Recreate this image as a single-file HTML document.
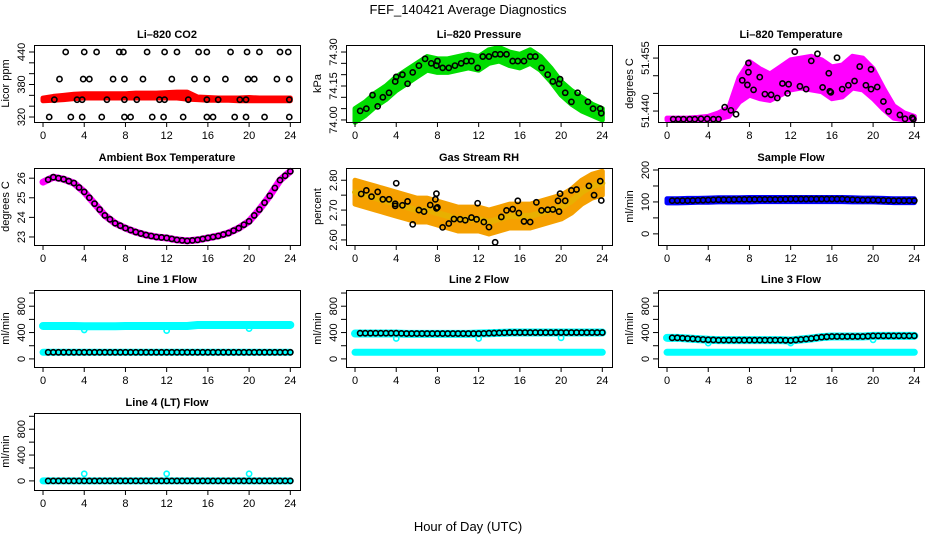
<!DOCTYPE html>
<html><head><meta charset="utf-8"><style>
body{margin:0;background:#fff}
svg{display:block;font-family:"Liberation Sans",sans-serif}
</style></head><body>
<svg id="c" width="936" height="540" xmlns="http://www.w3.org/2000/svg">
<text x="468" y="14" text-anchor="middle" font-size="13">FEF_140421  Average Diagnostics</text>
<text x="468" y="531" text-anchor="middle" font-size="13">Hour of Day (UTC)</text>
</svg>
<script>
const hours=[0,1,2,3,4,5,6,7,8,9,10,11,12,13,14,15,16,17,18,19,20,21,22,23,24];
const xTicks=[0,4,8,12,16,20,24];
// CO2
const co2Lo=[350,351,352,354,355,355,355,355,355,355,355,355,355,355,353,352,351,351,351,350,350,350,350,350,350];
const co2Hi=[355,358,360,362,363,363,363,363,363,364,364,364,365,366,366,357,356,355,355,355,356,355,355,355,355];
const co2BlkX=[2.2,4,5.2,7.4,7.8,10.1,11.8,13,15.1,15.9,18.2,19.8,21,23,23.8,1.6,3.9,4.5,6.8,7.9,9.7,12.5,14.7,15.9,17.7,19.9,20.5,22.7,23.9,1.1,3.3,3.8,6.2,7.9,9.1,11.3,11.8,14.1,15.9,17,19.1,19.7,23.9,0.6,2.7,3.8,5.7,7.9,8.5,10.6,11.7,13.6,15.9,16.5,18.6,19.7,21.5,23.9];
const co2BlkY=[440,440,440,440,440,440,440,440,440,440,440,440,440,440,440,390,390,390,390,390,390,390,390,390,390,390,390,390,390,352,352,352,352,352,352,352,352,352,352,352,352,352,352,320,320,320,320,320,320,320,320,320,320,320,320,320,320,320];
// Pressure
const presLo=[73.99,74.02,74.06,74.09,74.13,74.16,74.19,74.22,74.21,74.21,74.22,74.23,74.22,74.25,74.26,74.24,74.23,74.25,74.22,74.17,74.11,74.07,74.04,74.02,74.00];
const presHi=[74.05,74.08,74.12,74.15,74.19,74.22,74.25,74.28,74.27,74.27,74.28,74.29,74.28,74.31,74.32,74.30,74.29,74.31,74.28,74.23,74.17,74.13,74.10,74.07,74.05];
const presBlkX=[0.5,1.1,1.7,2.2,2.7,3.3,3.9,4,4.6,5.1,5.6,6.2,6.8,7.4,7.9,8,8.5,9.1,9.7,10.3,10.8,11.3,11.9,12.4,13,13.6,14.1,14.7,15.3,15.8,16.4,17,17.5,18.1,18.7,19.2,19.8,19.9,20.4,21,21.6,22.6,23.1,23.8,23.9];
const presBlkY=[74.04,74.05,74.11,74.06,74.10,74.12,74.17,74.19,74.20,74.16,74.21,74.24,74.27,74.25,74.24,74.26,74.23,74.23,74.24,74.25,74.26,74.26,74.23,74.28,74.28,74.29,74.29,74.29,74.26,74.26,74.26,74.28,74.28,74.23,74.20,74.17,74.16,74.18,74.12,74.08,74.12,74.08,74.05,74.05,74.03];
// Li-820 temperature
const ltLo=[51.4375,51.4375,51.4375,51.4375,51.4375,51.4378,51.4385,51.4425,51.4445,51.4435,51.4430,51.4445,51.4460,51.4465,51.4460,51.4455,51.4435,51.4440,51.4465,51.4460,51.4435,51.4405,51.4380,51.4375,51.4375];
const ltHi=[51.4380,51.4380,51.4380,51.4382,51.4385,51.4395,51.4410,51.4495,51.4540,51.4520,51.4505,51.4525,51.4545,51.4550,51.4555,51.4545,51.4525,51.4530,51.4555,51.4550,51.4520,51.4465,51.4415,51.4395,51.4385];
const ltBlkX=[0.6,1.1,1.6,2.2,2.7,3.3,3.9,4.5,5,5.6,6.2,6.7,7.3,7.8,7.9,7.9,8.4,9,9.5,10.1,10.7,11.2,11.7,11.8,12.4,12.9,13.5,14,14.6,15.1,15.7,15.8,15.9,16.5,17,17.6,18.2,18.7,19.3,19.8,19.8,20.4,21,21.5,22.6,23.1,23.8,23.9];
const ltBlkY=[51.4377,51.4377,51.4377,51.4377,51.4377,51.4378,51.4378,51.4377,51.4377,51.4411,51.4402,51.4391,51.4487,51.4474,51.4510,51.4536,51.4460,51.4496,51.4448,51.4446,51.4437,51.4478,51.4450,51.4476,51.4568,51.4470,51.4462,51.4542,51.4562,51.4467,51.4507,51.4456,51.4453,51.4551,51.4462,51.4473,51.4485,51.4526,51.4473,51.4462,51.4518,51.4468,51.4427,51.4399,51.4389,51.4378,51.4381,51.4377];
// Ambient box temperature
const ambT=[25.8,26.05,25.95,25.75,25.3,24.7,24.1,23.7,23.45,23.25,23.1,23.0,22.95,22.85,22.8,22.85,22.95,23.05,23.2,23.45,23.8,24.4,25.1,25.9,26.35];
// Gas stream RH
const rhLo=[2.72,2.71,2.70,2.69,2.68,2.67,2.66,2.66,2.65,2.64,2.63,2.63,2.63,2.62,2.63,2.64,2.64,2.64,2.65,2.66,2.67,2.69,2.72,2.74,2.75];
const rhHi=[2.80,2.79,2.78,2.77,2.76,2.75,2.74,2.74,2.73,2.72,2.71,2.71,2.71,2.70,2.71,2.72,2.72,2.72,2.73,2.74,2.75,2.77,2.80,2.82,2.83];
const rhBlkX=[0.6,1.1,1.6,2.2,2.7,3.3,3.9,3.9,4,4.6,5.1,5.6,6.2,6.7,7.3,7.8,7.9,7.9,8,8.5,9.1,9.6,10.2,10.7,11.3,11.8,11.9,12.5,13,13.6,14.2,14.7,15.3,15.8,15.9,16.4,17,17.6,18.1,18.7,19.2,19.7,19.8,19.9,20.4,21,21.5,22.7,23.2,23.8,23.9];
const rhBlkY=[2.754,2.766,2.745,2.761,2.736,2.736,2.721,2.714,2.790,2.716,2.729,2.652,2.700,2.695,2.717,2.736,2.755,2.706,2.709,2.642,2.655,2.670,2.669,2.666,2.675,2.669,2.723,2.660,2.643,2.592,2.677,2.699,2.703,2.731,2.690,2.662,2.660,2.726,2.699,2.701,2.702,2.731,2.695,2.755,2.731,2.766,2.769,2.781,2.750,2.797,2.732];
// Sample flow
const sfLo=[97,97,98,99,99,100,100,100,100,101,101,101,101,101,101,101,101,101,100,100,100,99,98,98,98];
const sfHi=[110,110,111,111,112,113,113,113,114,114,114,114,114,114,114,114,114,114,113,112,112,111,110,110,110];
const sfBlk=[104,104,104,105,106,107,107,108,108,108,108,108,109,109,109,109,109,109,107,106,106,105,104,104,104];
// Line flows
const l1High=[500,500,500,500,495,495,495,495,500,500,500,500,500,500,500,515,515,515,515,515,515,515,515,515,515];
const l1Low=[100,100,100,100,100,100,100,100,100,100,100,100,100,100,100,100,100,100,100,100,100,100,100,100,100];
const l1Blk=[100,100,100,100,100,100,100,100,100,100,100,100,100,100,100,100,100,100,100,100,100,100,100,100,100];
const l2High=[385,385,385,385,385,380,380,380,380,380,380,380,385,390,395,400,400,400,400,400,400,400,400,400,400];
const l2Low=[100,100,100,100,100,100,100,100,100,100,100,100,100,100,100,100,100,100,100,100,100,100,100,100,100];
const l2Blk=[390,390,390,390,390,385,385,385,385,385,385,385,385,390,395,400,400,400,400,400,400,400,400,400,400];
const l3High=[320,320,310,300,290,285,285,285,285,285,285,285,280,295,310,330,340,340,340,340,350,350,350,350,350];
const l3Low=[100,100,100,100,100,100,100,100,100,100,100,100,100,100,100,100,100,100,100,100,100,100,100,100,100];
const l3Blk=[320,320,310,300,290,285,285,285,285,285,285,285,280,295,310,330,340,340,340,340,350,350,350,350,350];
const l4Cyan=[0,0,0,0,0,0,0,0,0,0,0,0,0,0,0,0,0,0,0,0,0,0,0,0,0];
const l4Blk=[0,0,0,0,0,0,0,0,0,0,0,0,0,0,0,0,0,0,0,0,0,0,0,0,0];
const outX=[4,12,20];
const l1Out=[440,430,460];
const l2Out=[310,310,320];
const l3Out=[240,240,290];
const l4Out=[110,110,110];

const svg=document.getElementById('c');
const NS='http://www.w3.org/2000/svg';
function mk(tag,attrs,parent){const e=document.createElementNS(NS,tag);for(const k in attrs)e.setAttribute(k,attrs[k]);(parent||svg).appendChild(e);return e;}
const colLeft=[34,346,658], rowTop=[45,168,290,413], W=266, H=77;

function panel(col,row,name,title,ylab,yDom,yTicks,yLabs){
  const g=mk('g',{});
  
  
  const L=colLeft[col],T=rowTop[row];
  const sx=v=>L+(v+0.875)/25.815*W;
  const sy=v=>T+H-(v-yDom[0])/(yDom[1]-yDom[0])*H;
  const t=mk('text',{x:L+W/2,y:T-7,'text-anchor':'middle','font-size':11,'font-weight':'bold'},g);t.textContent=title;
  
  const plot=mk('g',{},g);
  
  const ax=mk('g',{stroke:'#000','stroke-width':1,fill:'none'},g);
  
  mk('rect',{x:L+0.5,y:T+0.5,width:W,height:H},ax);
  mk('line',{x1:sx(0),x2:sx(24),y1:T+H+0.5,y2:T+H+0.5},ax);
  xTicks.forEach(v=>{mk('line',{x1:sx(v),x2:sx(v),y1:T+H,y2:T+H+5},ax);
    const tx=mk('text',{x:sx(v),y:T+H+17,'text-anchor':'middle','font-size':11,fill:'#000',stroke:'none'},g);tx.textContent=v;
    });
  mk('line',{x1:L+0.5,x2:L+0.5,y1:sy(yTicks[0]),y2:sy(yTicks[yTicks.length-1])},ax);
  yTicks.forEach(v=>mk('line',{x1:L-5,x2:L,y1:sy(v),y2:sy(v)},ax));
  yLabs.forEach(v=>{const tx=mk('text',{x:0,y:0,transform:`translate(${L-9},${sy(v.v)}) rotate(-90)`,'text-anchor':'middle','font-size':11},g);tx.textContent=v.s;
    });
  const yl=mk('text',{x:0,y:0,transform:`translate(${L-25},${T+H/2}) rotate(-90)`,'text-anchor':'middle','font-size':11},g);yl.textContent=ylab;
  
  return {sx,sy,plot};
}
function band(p,lo,hi,color,nm){
  let d='M'+hours.map((h,i)=>p.sx(h)+','+p.sy(hi[i])).join('L')+'L'+hours.slice().reverse().map((h,j)=>p.sx(h)+','+p.sy(lo[hours.length-1-j])).join('L')+'Z';
  const e=mk('path',{d,fill:color,stroke:color,'stroke-width':5,'stroke-linejoin':'round'},p.plot);
  
}
function line(p,ys,color,w,nm){
  const e=mk('polyline',{points:hours.map((h,i)=>p.sx(h)+','+p.sy(ys[i])).join(' '),fill:'none',stroke:color,'stroke-width':w,'stroke-linecap':'round','stroke-linejoin':'round'},p.plot);
  
}
function pts(p,xs,ys,color,nm,r){
  xs.forEach((x,i)=>{const c=mk('circle',{cx:p.sx(x),cy:p.sy(ys[i]),r:r||2.6,fill:'none',stroke:color,'stroke-width':1.6},p.plot);
    });
}
function hourPts(p,ys,color,nm){
  const xs=[],vs=[];hours.forEach((h,i)=>{if(h>0){xs.push(h-0.5);vs.push((ys[i-1]+ys[i])/2);}xs.push(h);vs.push(ys[i]);});
  pts(p,xs.slice(1),vs.slice(1),color,nm);
}
const lab=a=>a.map(v=>({v:v,s:String(v)}));

let p=panel(0,0,'li820-co2','Li\u2013820 CO2','Licor ppm',[310.8,452.9],[320,340,360,380,400,420,440],lab([320,380,440]));
band(p,co2Lo,co2Hi,'#ff0000','co2-band');
pts(p,co2BlkX,co2BlkY,'#000','co2-point');

p=panel(1,0,'li820-pressure','Li\u2013820 Pressure','kPa',[73.991,74.331],[74.00,74.05,74.10,74.15,74.20,74.25,74.30],[{v:74.0,s:'74.00'},{v:74.15,s:'74.15'},{v:74.3,s:'74.30'}]);
band(p,presLo,presHi,'#00dd00','pressure-band');
pts(p,presBlkX,presBlkY,'#000','pressure-point');

p=panel(2,0,'li820-temperature','Li\u2013820 Temperature','degrees C',[51.4369,51.4587],[51.440,51.445,51.450,51.455],[{v:51.44,s:'51.440'},{v:51.455,s:'51.455'}]);
band(p,ltLo,ltHi,'#ff00ff','li-temp-band');
pts(p,ltBlkX,ltBlkY,'#000','li-temp-point');

p=panel(0,1,'ambient-box-temperature','Ambient Box Temperature','degrees C',[22.59,26.52],[23,24,25,26],lab([23,24,25,26]));
line(p,ambT,'#ff00ff',7,'ambient-temp-line');
hourPts(p,ambT,'#000','ambient-temp-point');

p=panel(1,1,'gas-stream-rh','Gas Stream RH','percent',[2.583,2.841],[2.60,2.65,2.70,2.75,2.80],[{v:2.6,s:'2.60'},{v:2.7,s:'2.70'},{v:2.8,s:'2.80'}]);
band(p,rhLo,rhHi,'#f5a000','rh-band');
line(p,rhLo.map((v,i)=>(v+rhHi[i])/2),'#e8b000',6,'rh-center');
pts(p,rhBlkX,rhBlkY,'#000','rh-point');

p=panel(2,1,'sample-flow','Sample Flow','ml/min',[-34.9,206.3],[0,50,100,150,200],lab([0,100,200]));
band(p,sfLo,sfHi,'#0000ff','sample-flow-band');
hourPts(p,sfBlk,'#000','sample-flow-point');

const lt=[0,200,400,600,800,1000], ll=lab([0,400,800]);
p=panel(0,2,'line1-flow','Line 1 Flow','ml/min',[-123,1046],lt,ll);
line(p,l1High,'#00ffff',8,'line1-high');line(p,l1Low,'#00ffff',7,'line1-low');
pts(p,outX,l1Out,'#00ffff','line1-outlier');hourPts(p,l1Blk,'#000','line1-point');

p=panel(1,2,'line2-flow','Line 2 Flow','ml/min',[-123,1046],lt,ll);
line(p,l2High,'#00ffff',8,'line2-high');line(p,l2Low,'#00ffff',7,'line2-low');
pts(p,outX,l2Out,'#00ffff','line2-outlier');hourPts(p,l2Blk,'#000','line2-point');

p=panel(2,2,'line3-flow','Line 3 Flow','ml/min',[-123,1046],lt,ll);
line(p,l3High,'#00ffff',8,'line3-high');line(p,l3Low,'#00ffff',7,'line3-low');
pts(p,outX,l3Out,'#00ffff','line3-outlier');hourPts(p,l3Blk,'#000','line3-point');

p=panel(0,3,'line4-flow','Line 4 (LT) Flow','ml/min',[-141,1051],lt,ll);
line(p,l4Cyan,'#00ffff',7,'line4-cyan');
pts(p,outX,l4Out,'#00ffff','line4-outlier');hourPts(p,l4Blk,'#000','line4-point');
</script>
</body></html>
